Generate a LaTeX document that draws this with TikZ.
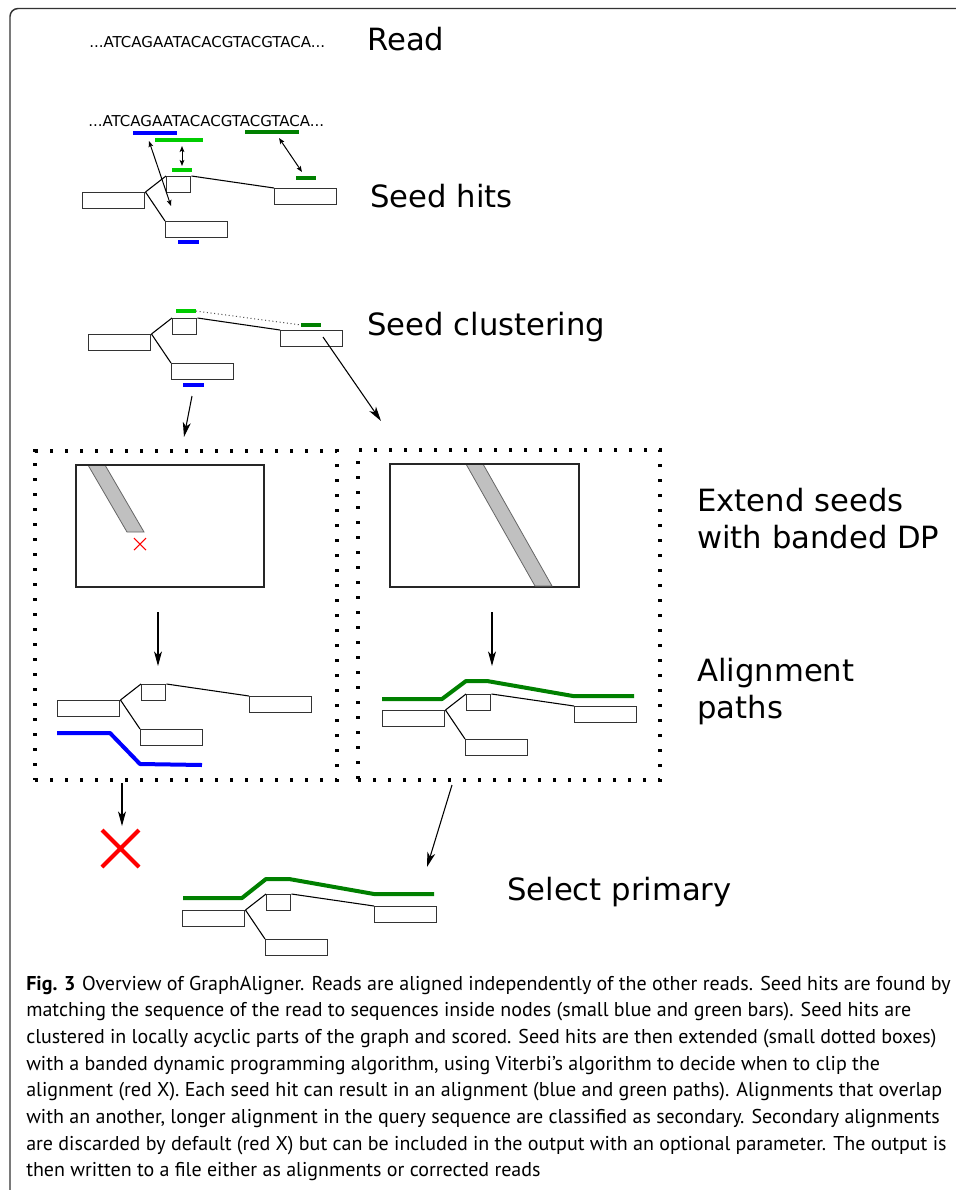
\documentclass[tikz,border=0pt]{standalone}
\usepackage{fontspec}
\setmainfont{DejaVu Sans}
\newfontfamily\capfont{PT Sans}
\usetikzlibrary{arrows.meta}
\definecolor{seedblue}{HTML}{0000FF}
\definecolor{lgreen}{HTML}{00CC00}
\definecolor{dgreen}{HTML}{008000}
\definecolor{bandgray}{HTML}{C0C0C0}
\definecolor{framec}{HTML}{333333}
\tikzset{
 gbox/.style={draw=black!80, line width=1.1pt, inner sep=0pt, minimum height=12pt, anchor=north west},
 gwide/.style={minimum width=46.5pt},
 gsmall/.style={minimum width=18pt},
 gedge/.style={draw=black, line width=0.8pt},
 seedbar/.style={line width=3pt},
 apath/.style={line width=3pt, line join=round},
 arr/.style={draw=black, line width=0.8pt, -{Stealth[length=11pt,width=6pt,inset=3pt]}},
 darr/.style={draw=black, line width=0.75pt, {Stealth[length=4.5pt,width=3.5pt,inset=1pt]}-{Stealth[length=4.5pt,width=3.5pt,inset=1pt]}},
 dotbox/.style={draw=black, line width=2.4pt, dash pattern=on 2.4pt off 8.85pt, inner sep=0pt},
 dpbox/.style={draw=black!85, line width=1pt, inner sep=0pt, anchor=north west},
 band/.style={fill=bandgray, draw=black!60, line width=0.6pt},
 steplbl/.style={font=\fontsize{23}{27.75}\selectfont, inner sep=0pt, anchor=base west},
 steplbltwo/.style={font=\fontsize{23}{27.75}\selectfont, inner sep=0pt, anchor=north west, align=left},
 seqtxt/.style={font=\fontsize{11.25}{13}\selectfont, inner sep=0pt, anchor=base west},
}
\newcommand\seedgraph[3]{%
 \coordinate (#1o) at (#2,#3);
 \node[gbox,gwide] (#1A) at (#1o) {};
 \node[gbox,gsmall] (#1B) at ([shift={(84,-16)}]#1o) {};
 \node[gbox,gwide] (#1C) at ([shift={(192,-4)}]#1o) {};
 \node[gbox,gwide] (#1D) at ([shift={(83,29)}]#1o) {};
 \draw[gedge] (#1A.north east) -- (#1B.north west);
 \draw[gedge] (#1A.north east) -- (#1D.north west);
 \draw[gedge] (#1B.north east) -- (#1C.north west);
}
\begin{document}
\begin{tikzpicture}[x=0.75pt,y=-0.75pt]
\useasboundingbox[fill=white] (0,0) rectangle (956,1190);
% frame
\draw[framec, line width=1.1pt, rounded corners=6pt] (975,8.5) -- (10,8.5) -- (10,1210);

% Read
\node[seqtxt] (read) at (89,47) {...ATCAGAATACACGTACGTACA...};
\node[steplbl] (lread) at (367,50) {Read};

% Seed hits
\node[seqtxt] (read2) at (88,126) {...ATCAGAATACACGTACGTACA...};
\seedgraph{H}{82}{192}
\draw[seedbar, seedblue] (133,133) -- (177,133);
\draw[seedbar, lgreen] (155,140) -- (203,140);
\draw[seedbar, dgreen] (245,132) -- (299,132);
\draw[seedbar, lgreen] (172,170) -- (192,170);
\draw[seedbar, dgreen] (296,178) -- (316,178);
\draw[seedbar, seedblue] (178,242) -- (199,242);
\coordinate (hb1) at (149,141); \coordinate (hb2) at (171,206);
\coordinate (hg1) at (182,146); \coordinate (hg2) at (182,166);
\coordinate (hd1) at (279,138); \coordinate (hd2) at (302,172);
\draw[darr] (hb1) -- (hb2);
\draw[darr] (hg1) -- (hg2);
\draw[darr] (hd1) -- (hd2);
\node[steplbl] (lseed) at (370,207) {Seed hits};

% Seed clustering
\seedgraph{K}{88}{334}
\draw[seedbar, lgreen] (176,311) -- (196,311);
\draw[seedbar, dgreen] (301,325) -- (321,325);
\draw[seedbar, seedblue] (183,385) -- (204,385);
\draw[black!70, line width=0.75pt, dotted] (196,311) -- (301,325);
\node[steplbl] (lclust) at (367,335) {Seed clustering};

% dotted boxes
\node[dotbox, minimum width=226.5pt, minimum height=246.75pt] (LB) at (186,615.5) {};
\node[dotbox, minimum width=226.5pt, minimum height=247.5pt] (RB) at (509,615) {};
\coordinate (k1s) at (192,396); \coordinate (k1e) at (184,437);
\coordinate (k2s) at (323,337); \coordinate (k2e) at (381,421);
\draw[arr] (k1s) -- (k1e);
\draw[arr] (k2s) -- (k2e);

% DP matrices
\node[dpbox, minimum width=140.25pt, minimum height=90.75pt] (LM) at (76,465) {};
\fill[band] (88,465) -- (105,465) -- (144,532) -- (127,532) -- cycle;
\draw[red, line width=0.8pt] (134,538) -- (146,550) (134,550) -- (146,538);
\node[dpbox, minimum width=141pt, minimum height=91.5pt] (RM) at (390,464) {};
\fill[band] (466,464) -- (483,464) -- (552,586) -- (535,586) -- cycle;
\draw[black!85, line width=1pt] (RM.north west) rectangle (RM.south east);
\draw[black!85, line width=1pt] (LM.north west) rectangle (LM.south east);

\coordinate (la1) at (158,612); \coordinate (la2) at (158,666);
\coordinate (ra1) at (492,612); \coordinate (ra2) at (492,666);
\draw[arr] (la1) -- (la2);
\draw[arr] (ra1) -- (ra2);

\node[steplbltwo] (lext) at (697,484.3) {\rule{0pt}{20pt}Extend seeds\\with banded DP};

% Alignment paths
\seedgraph{L}{57}{700}
\draw[apath, seedblue] ([shift={(0,33)}]Lo) -- ([shift={(53,33)}]Lo) -- ([shift={(83,64)}]Lo) -- ([shift={(145,65)}]Lo);
\seedgraph{R}{382}{710}
\draw[apath, dgreen] ([shift={(0,-11)}]Ro) -- ([shift={(60,-11)}]Ro) -- ([shift={(84,-29)}]Ro) -- ([shift={(105,-29)}]Ro) -- ([shift={(191,-14)}]Ro) -- ([shift={(252,-14)}]Ro);
\node[steplbltwo] (lalign) at (697,654.3) {\rule{0pt}{20pt}Alignment\\paths};

% discard / select
\coordinate (d1) at (122,783); \coordinate (d2) at (122,826);
\draw[arr] (d1) -- (d2);
\draw[red, line width=3pt] (102,830) -- (139,867) (102,867) -- (139,830);
\coordinate (s1) at (452,785); \coordinate (s2) at (427,867);
\draw[arr] (s1) -- (s2);
\seedgraph{P}{182}{910}
\draw[apath, dgreen] ([shift={(1,-12)}]Po) -- ([shift={(60,-12)}]Po) -- ([shift={(84,-31)}]Po) -- ([shift={(107,-31)}]Po) -- ([shift={(192,-16)}]Po) -- ([shift={(252,-16)}]Po);
\node[steplbl] (lsel) at (507,900) {Select primary};

% caption
\node[anchor=north west, inner sep=0pt, align=left, font=\capfont\fontsize{15}{20}\selectfont] (caption) at (26,970.7) {\rule{0pt}{14.5pt}\textbf{Fig. 3}\hspace{5pt}Overview of GraphAligner. Reads are aligned independently of the other reads. Seed hits are found by\\
matching the sequence of the read to sequences inside nodes (small blue and green bars). Seed hits are\\
clustered in locally acyclic parts of the graph and scored. Seed hits are then extended (small dotted boxes)\\
with a banded dynamic programming algorithm, using Viterbi’s algorithm to decide when to clip the\\
alignment (red X). Each seed hit can result in an alignment (blue and green paths). Alignments that overlap\\
with an another, longer alignment in the query sequence are classified as secondary. Secondary alignments\\
are discarded by default (red X) but can be included in the output with an optional parameter. The output is\\
then written to a file either as alignments or corrected reads};
\end{tikzpicture}
\end{document}
